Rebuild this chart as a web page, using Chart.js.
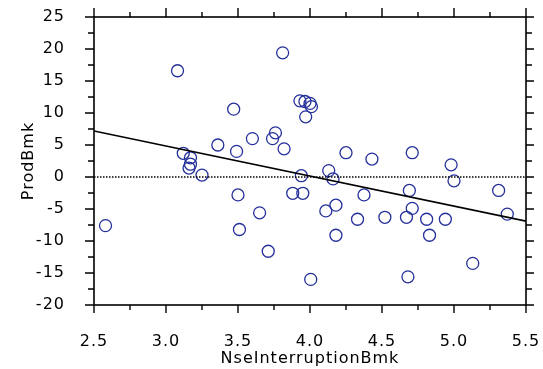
<!DOCTYPE html>
<html>
<head>
<meta charset="utf-8">
<script src="https://cdn.jsdelivr.net/npm/chart.js@4/dist/chart.umd.min.js"></script>
<style>
html,body{margin:0;padding:0;background:#fff;}
#wrap{width:543px;height:369px;}
</style>
</head>
<body>
<div id="wrap"><canvas id="c" width="543" height="369"></canvas></div>
<script>
// Data
const nseX = [2.58,3.08,3.12,3.17,3.17,3.16,3.25,3.36,3.47,3.49,3.50,3.51,3.60,3.65,3.71,3.74,3.76,3.81,3.82,3.88,3.93,3.95,3.94,3.965,3.97,4.00,4.01,4.005,4.11,4.13,4.16,4.18,4.18,4.25,4.33,4.375,4.43,4.52,4.67,4.68,4.69,4.71,4.71,4.81,4.83,4.94,4.98,5.00,5.13,5.31,5.37];
const prodY = [-7.6,16.6,3.7,3.0,2.0,1.4,0.3,5.0,10.6,4.0,-2.8,-8.2,6.0,-5.6,-11.6,6.0,6.9,19.4,4.4,-2.55,11.9,-2.55,0.2,11.8,9.4,11.5,11.0,-16.0,-5.3,1.0,-0.3,-4.4,-9.1,3.8,-6.6,-2.8,2.8,-6.3,-6.3,-15.6,-2.1,3.8,-4.9,-6.6,-9.1,-6.6,1.9,-0.6,-13.5,-2.1,-5.8];
const fitX = [2.5, 5.5];
const fitY = [7.2, -6.9];
const zeroX = [2.5, 5.5];
const zeroY = [0, 0];
const xTicks = [2.5,3,3.5,4,4.5,5,5.5];
const yTicks = [-20,-15,-10,-5,0,5,10,15,20,25];
const xTitle = 'NseInterruptionBmk';
const yTitle = 'ProdBmk';

const pts = nseX.map((x,i)=>({x:x,y:prodY[i]}));
const fit = fitX.map((x,i)=>({x:x,y:fitY[i]}));
const zero = zeroX.map((x,i)=>({x:x,y:zeroY[i]}));

const FONT = {family:'"DejaVu Sans", sans-serif', size:16};

const framePlugin = {
  id:'frame',
  beforeDraw(chart){ chart.ctx.letterSpacing = '1px'; },
  afterDraw(chart){
    const ctx = chart.ctx;
    const {left,right,top,bottom} = chart.chartArea;
    const xs = chart.scales.x, ys = chart.scales.y;
    ctx.save();
    ctx.strokeStyle = '#000';
    ctx.lineWidth = 1.6;
    ctx.strokeRect(left, top, right-left, bottom-top);
    ctx.lineWidth = 1.4;
    ctx.beginPath();
    for (let i=0;i<xTicks.length;i++){
      const px = xs.getPixelForValue(xTicks[i]);
      ctx.moveTo(px,bottom); ctx.lineTo(px,bottom+8);
      ctx.moveTo(px,top); ctx.lineTo(px,top-9);
      if (i<xTicks.length-1){
        const m = xs.getPixelForValue((xTicks[i]+xTicks[i+1])/2);
        ctx.moveTo(m,bottom); ctx.lineTo(m,bottom+5);
        ctx.moveTo(m,top); ctx.lineTo(m,top-5);
      }
    }
    for (let i=0;i<yTicks.length;i++){
      const py = ys.getPixelForValue(yTicks[i]);
      ctx.moveTo(left,py); ctx.lineTo(left-9,py);
      ctx.moveTo(right,py); ctx.lineTo(right+8,py);
      if (i<yTicks.length-1){
        const m = ys.getPixelForValue((yTicks[i]+yTicks[i+1])/2);
        ctx.moveTo(left,m); ctx.lineTo(left-6,m);
        ctx.moveTo(right,m); ctx.lineTo(right+6,m);
      }
    }
    ctx.stroke();
    ctx.restore();
  }
};

function zeroPad(s){ s.paddingTop = 0; s.paddingBottom = 0; s.paddingLeft = 0; s.paddingRight = 0; }

new Chart(document.getElementById('c'), {
  type:'scatter',
  data:{
    datasets:[
      {type:'line', data:zero, borderColor:'#000', borderWidth:1.5, borderDash:[1.5,1.5], pointRadius:0, fill:false},
      {type:'line', data:fit, borderColor:'#000', borderWidth:1.6, pointRadius:0, fill:false},
      {data:pts, pointStyle:'circle', pointRadius:6, borderWidth:1.3, borderColor:'#25309a', backgroundColor:'rgba(0,0,0,0)'}
    ]
  },
  options:{
    responsive:false,
    animation:false,
    events:[],
    layout:{padding:{top:17,right:17,left:0,bottom:0}},
    plugins:{legend:{display:false}, tooltip:{enabled:false}},
    scales:{
      x:{
        type:'linear', min:2.5, max:5.5,
        afterBuildTicks(s){ s.ticks = xTicks.map(v=>({value:v})); },
        afterFit(s){ s.height = 64; zeroPad(s); },
        grid:{display:false}, border:{display:false},
        ticks:{color:'#000', font:FONT, padding:19, maxRotation:0, autoSkip:false},
        title:{display:true, text:xTitle, color:'#000', font:FONT, padding:{top:0,bottom:1}}
      },
      y:{
        type:'linear', min:-20, max:25,
        afterBuildTicks(s){ s.ticks = yTicks.map(v=>({value:v})); },
        afterFit(s){ s.width = 94; zeroPad(s); },
        grid:{display:false}, border:{display:false},
        ticks:{color:'#000', font:FONT, padding:21, autoSkip:false},
        title:{display:true, text:yTitle, color:'#000', font:FONT, padding:{top:19,bottom:0}}
      }
    }
  },
  plugins:[framePlugin]
});
</script>
</body>
</html>
